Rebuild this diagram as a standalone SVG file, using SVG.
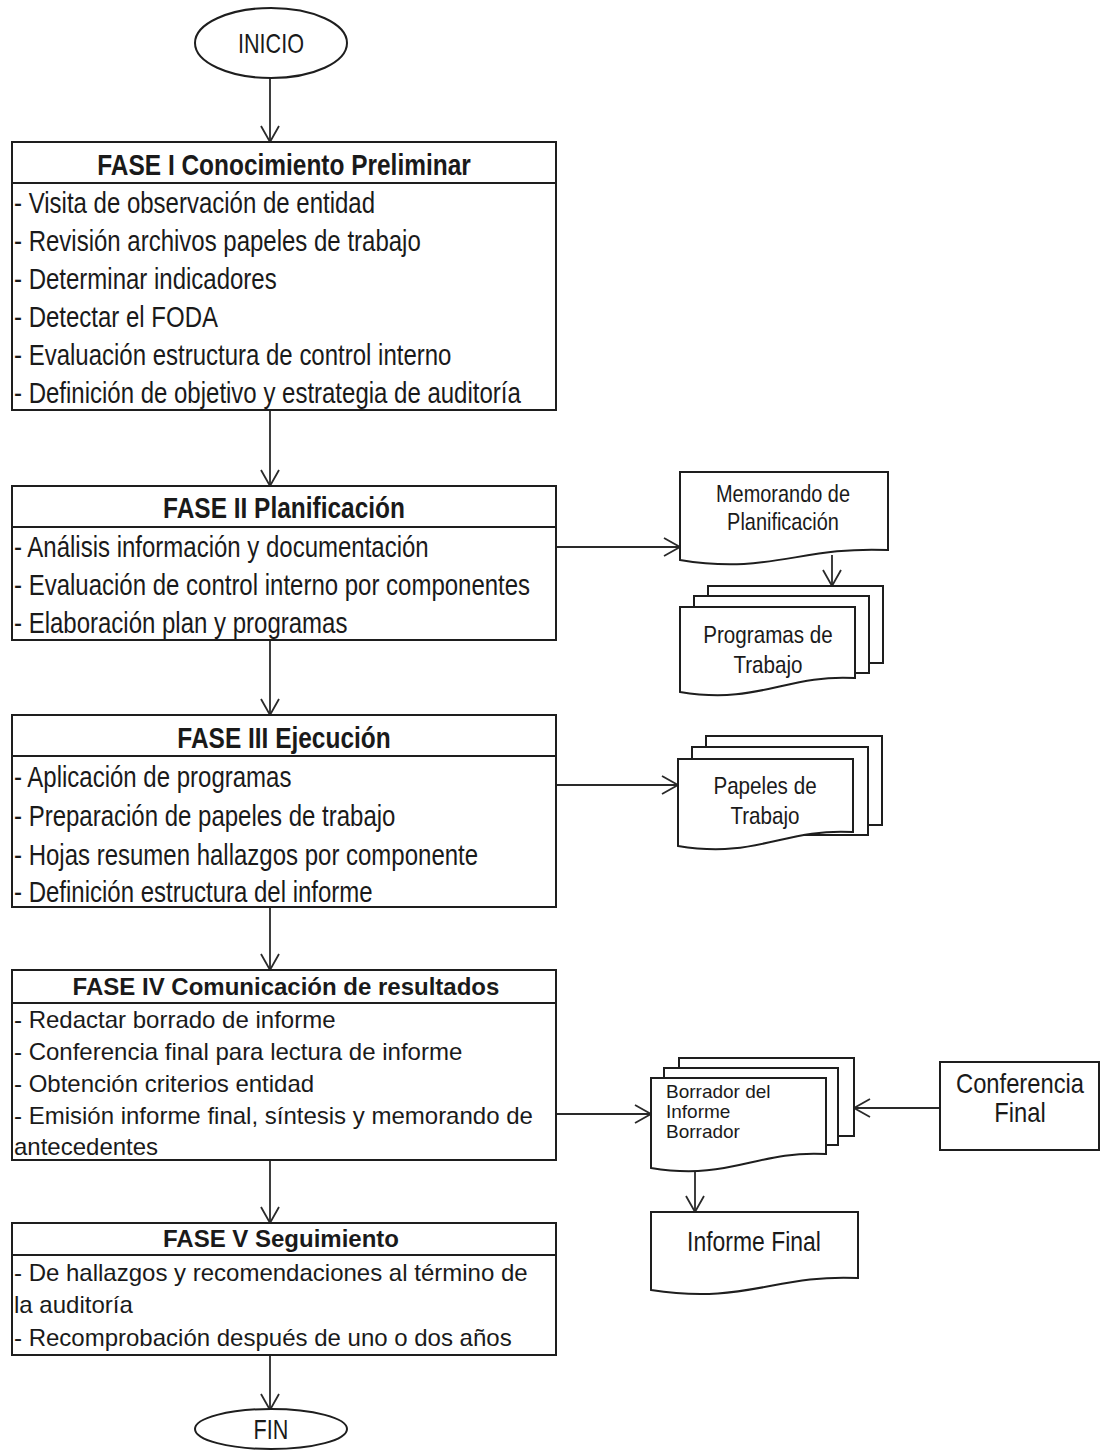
<svg xmlns="http://www.w3.org/2000/svg" width="1100" height="1450" viewBox="0 0 1100 1450">
<defs>
<marker id="arr" markerUnits="userSpaceOnUse" markerWidth="22" markerHeight="22" refX="17" refY="10" orient="auto">
<path d="M1,1 L17,10 L1,19" fill="none" stroke="#2a2a2a" stroke-width="1.8"/>
</marker>
<style>
.box{fill:#fff;stroke:#1e1e1e;stroke-width:2}
.con{fill:none;stroke:#2a2a2a;stroke-width:1.8;marker-end:url(#arr)}
text{font-family:"Liberation Sans",Arial,sans-serif;fill:#1a1a1a}
.n{font-size:30px}
.nb{font-size:30px;font-weight:bold;text-anchor:middle}
.w{font-size:24px}
.wb{font-size:24px;font-weight:bold;text-anchor:middle}
.d{font-size:24px;text-anchor:middle}
.s{font-size:19px}
.c{font-size:27px;text-anchor:middle}
</style>
</defs>
<rect width="1100" height="1450" fill="#fff"/>

<g id="connectors">
<line class="con" x1="270" y1="78" x2="270" y2="142"/>
<line class="con" x1="270" y1="410" x2="270" y2="486"/>
<line class="con" x1="270" y1="640" x2="270" y2="715"/>
<line class="con" x1="270" y1="907" x2="270" y2="970"/>
<line class="con" x1="270" y1="1160" x2="270" y2="1223"/>
<line class="con" x1="270" y1="1355" x2="270" y2="1410"/>
<line class="con" x1="556" y1="547" x2="680" y2="547"/>
<line class="con" x1="832" y1="555" x2="832" y2="586"/>
<line class="con" x1="556" y1="785" x2="678" y2="785"/>
<line class="con" x1="556" y1="1114" x2="651" y2="1114"/>
<line class="con" x1="940" y1="1108" x2="854" y2="1108"/>
<line class="con" x1="695" y1="1168" x2="695" y2="1212"/>
</g>

<g id="inicio">
<ellipse class="box" cx="271" cy="43" rx="76" ry="35"/>
<text class="c" transform="translate(271,53) scale(0.8,1)">INICIO</text>
</g>

<g id="fase1">
<rect class="box" x="12" y="142" width="544" height="268"/>
<line class="box" x1="12" y1="183" x2="556" y2="183"/>
<text class="nb" transform="translate(284,175) scale(0.815,1)">FASE I Conocimiento Preliminar</text>
<text class="n" transform="translate(14,213) scale(0.8,1)">- Visita de observación de entidad</text>
<text class="n" transform="translate(14,251) scale(0.8,1)">- Revisión archivos papeles de trabajo</text>
<text class="n" transform="translate(14,289) scale(0.8,1)">- Determinar indicadores</text>
<text class="n" transform="translate(14,327) scale(0.8,1)">- Detectar el FODA</text>
<text class="n" transform="translate(14,365) scale(0.8,1)">- Evaluación estructura de control interno</text>
<text class="n" transform="translate(14,403) scale(0.8,1)">- Definición de objetivo y estrategia de auditoría</text>
</g>

<g id="fase2">
<rect class="box" x="12" y="486" width="544" height="154"/>
<line class="box" x1="12" y1="527" x2="556" y2="527"/>
<text class="nb" transform="translate(284,518) scale(0.815,1)">FASE II Planificación</text>
<text class="n" transform="translate(14,557) scale(0.8,1)">- Análisis información y documentación</text>
<text class="n" transform="translate(14,595) scale(0.8,1)">- Evaluación de control interno por componentes</text>
<text class="n" transform="translate(14,633) scale(0.8,1)">- Elaboración plan y programas</text>
</g>

<g id="fase3">
<rect class="box" x="12" y="715" width="544" height="192"/>
<line class="box" x1="12" y1="756" x2="556" y2="756"/>
<text class="nb" transform="translate(284,748) scale(0.815,1)">FASE III Ejecución</text>
<text class="n" transform="translate(14,787) scale(0.8,1)">- Aplicación de programas</text>
<text class="n" transform="translate(14,826) scale(0.8,1)">- Preparación de papeles de trabajo</text>
<text class="n" transform="translate(14,865) scale(0.8,1)">- Hojas resumen hallazgos por componente</text>
<text class="n" transform="translate(14,902) scale(0.8,1)">- Definición estructura del informe</text>
</g>

<g id="fase4">
<rect class="box" x="12" y="970" width="544" height="190"/>
<line class="box" x1="12" y1="1003" x2="556" y2="1003"/>
<text class="wb" x="286" y="995">FASE IV Comunicación de resultados</text>
<text class="w" x="14" y="1028">- Redactar borrado de informe</text>
<text class="w" x="14" y="1060">- Conferencia final para lectura de informe</text>
<text class="w" x="14" y="1092">- Obtención criterios entidad</text>
<text class="w" x="14" y="1124">- Emisión informe final, síntesis y memorando de</text>
<text class="w" x="14" y="1155">antecedentes</text>
</g>

<g id="fase5">
<rect class="box" x="12" y="1223" width="544" height="132"/>
<line class="box" x1="12" y1="1255" x2="556" y2="1255"/>
<text class="wb" x="281" y="1247">FASE V Seguimiento</text>
<text class="w" x="14" y="1281">- De hallazgos y recomendaciones al término de</text>
<text class="w" x="14" y="1313">la auditoría</text>
<text class="w" x="14" y="1346">- Recomprobación después de uno o dos años</text>
</g>

<g id="fin">
<ellipse class="box" cx="271" cy="1429" rx="76" ry="20"/>
<text class="c" transform="translate(271,1439) scale(0.8,1)">FIN</text>
</g>

<g id="memorando">
<path class="box" d="M680,472 H888 V550 C800,546 770,575 680,560 Z"/>
<text class="d" transform="translate(783,502) scale(0.83,1)">Memorando de</text>
<text class="d" transform="translate(783,530) scale(0.83,1)">Planificación</text>
</g>

<g id="programas">
<rect class="box" x="708" y="586" width="175" height="77"/>
<rect class="box" x="694" y="596" width="175" height="77"/>
<path class="box" d="M680,607 H855 V678 C785,674 760,705 680,692 Z"/>
<text class="d" transform="translate(768,643) scale(0.86,1)">Programas  de</text>
<text class="d" transform="translate(768,673) scale(0.86,1)">Trabajo</text>
</g>

<g id="papeles">
<rect class="box" x="706" y="736" width="176" height="89"/>
<rect class="box" x="692" y="747" width="176" height="88"/>
<path class="box" d="M678,759 H853 V832 C783,828 758,859 678,846 Z"/>
<text class="d" transform="translate(765,794) scale(0.86,1)">Papeles de</text>
<text class="d" transform="translate(765,824) scale(0.86,1)">Trabajo</text>
</g>

<g id="borrador">
<rect class="box" x="679" y="1058" width="175" height="78"/>
<rect class="box" x="664" y="1068" width="174" height="77"/>
<path class="box" d="M651,1078 H826 V1154 C756,1150 731,1181 651,1168 Z"/>
<text class="s" x="666" y="1098">Borrador del</text>
<text class="s" x="666" y="1118">Informe</text>
<text class="s" x="666" y="1138">Borrador</text>
</g>

<g id="conferencia">
<rect class="box" x="940" y="1062" width="159" height="88"/>
<text class="c" transform="translate(1020,1093) scale(0.88,1)">Conferencia</text>
<text class="c" transform="translate(1020,1122) scale(0.88,1)">Final</text>
</g>

<g id="informe">
<path class="box" d="M651,1212 H858 V1278 C775,1274 745,1305 651,1290 Z"/>
<text class="c" transform="translate(754,1251) scale(0.85,1)">Informe Final</text>
</g>
</svg>
